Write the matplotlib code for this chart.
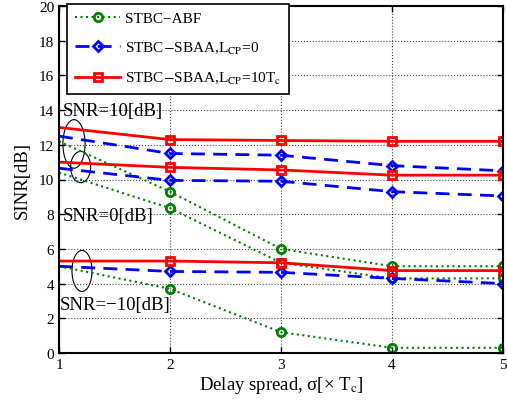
import matplotlib
matplotlib.use("Agg")
import matplotlib.pyplot as plt
from matplotlib.patches import Ellipse

plt.rcParams['font.family'] = ['Liberation Serif', 'DejaVu Serif']
plt.rcParams['mathtext.fontset'] = 'stix'

delay = [1, 2, 3, 4, 5]

# SNR = 10 dB
abf_10 = [12.2, 9.3, 6.0, 5.0, 5.0]
sbaa0_10 = [12.5, 11.5, 11.4, 10.8, 10.5]
sbaa10_10 = [13.0, 12.3, 12.25, 12.2, 12.2]
# SNR = 0 dB
abf_0 = [10.4, 8.35, 5.2, 4.3, 4.3]
sbaa0_0 = [10.65, 9.95, 9.9, 9.3, 9.05]
sbaa10_0 = [11.0, 10.7, 10.55, 10.25, 10.25]
# SNR = -10 dB
abf_m10 = [5.0, 3.7, 1.2, 0.3, 0.3]
sbaa0_m10 = [5.0, 4.7, 4.65, 4.3, 4.0]
sbaa10_m10 = [5.3, 5.3, 5.2, 4.75, 4.75]

labels = ['STBC\u2212ABF', r'STBC$-$SBAA,L$_{\mathrm{CP}}$=0', r'STBC$-$SBAA,L$_{\mathrm{CP}}$=10T$_{\mathrm{c}}$']
snr_texts = ['SNR=10[dB]', 'SNR=0[dB]', 'SNR=\u221210[dB]']

fig = plt.figure(figsize=(5.07, 4.02), dpi=100)
ax = fig.add_axes([59/507, 1-354/402, 444/507, 347/402])

green = '#008000'
mk = slice(1, None)
style_abf = dict(color=green, ls=':', lw=1.5, marker='o', ms=6, mew=2, mfc='none', markevery=mk)
style_s0 = dict(color='#0000ff', ls=(0, (5, 3)), lw=2, marker='D', ms=5.5, mew=2, mfc='none', markevery=mk)
style_s10 = dict(color='#ff0000', ls='-', lw=2, marker='s', ms=6, mew=2, mfc='none', markevery=mk)

groups = [(abf_10, sbaa0_10, sbaa10_10), (abf_0, sbaa0_0, sbaa10_0), (abf_m10, sbaa0_m10, sbaa10_m10)]
for i, (a, b, c) in enumerate(groups):
    ax.plot(delay, a, **style_abf, label=labels[0] if i == 0 else None)
    ax.plot(delay, b, **style_s0, label=labels[1] if i == 0 else None)
    ax.plot(delay, c, **style_s10, label=labels[2] if i == 0 else None)

ax.set_xlim(1, 5)
ax.set_ylim(0, 20)
ax.set_xticks([1, 2, 3, 4, 5])
ax.set_yticks(range(0, 21, 2))
ax.tick_params(direction='in', top=True, right=True, labelsize=11, length=4, width=1)
for s in ax.spines.values():
    s.set_linewidth(1.5)
ax.grid(True, ls=':', color='#444444', lw=0.8)

ax.set_xlabel('Delay spread, \u03c3[\u00d7 T$_{\mathrm{c}}$]', fontsize=13.5, labelpad=2)
ax.set_ylabel('SINR[dB]', fontsize=13.5, labelpad=6)

# ellipses
for (cx, cy, w, h) in [(1.135, 12.05, 0.2, 2.8), (1.195, 10.72, 0.18, 1.8), (1.207, 4.73, 0.18, 2.37)]:
    ax.add_patch(Ellipse((cx, cy), w, h, fill=False, ec='black', lw=0.8))

ax.text(1.03, 14.0, snr_texts[0], fontsize=13.5, va='center', ha='left')
ax.text(1.035, 7.93, snr_texts[1], fontsize=13.5, va='center', ha='left')
ax.text(1.01, 2.82, snr_texts[2], fontsize=13.5, va='center', ha='left')

leg = ax.legend(loc='upper left', bbox_to_anchor=(0.018, 1.006), borderaxespad=0, fontsize=11,
                frameon=True, fancybox=False, edgecolor='black', framealpha=1, borderpad=0.5,
                handlelength=3.0, handletextpad=0.3, labelspacing=0.95)
leg.get_frame().set_linewidth(1.2)

fig.savefig('out.png', dpi=100)
